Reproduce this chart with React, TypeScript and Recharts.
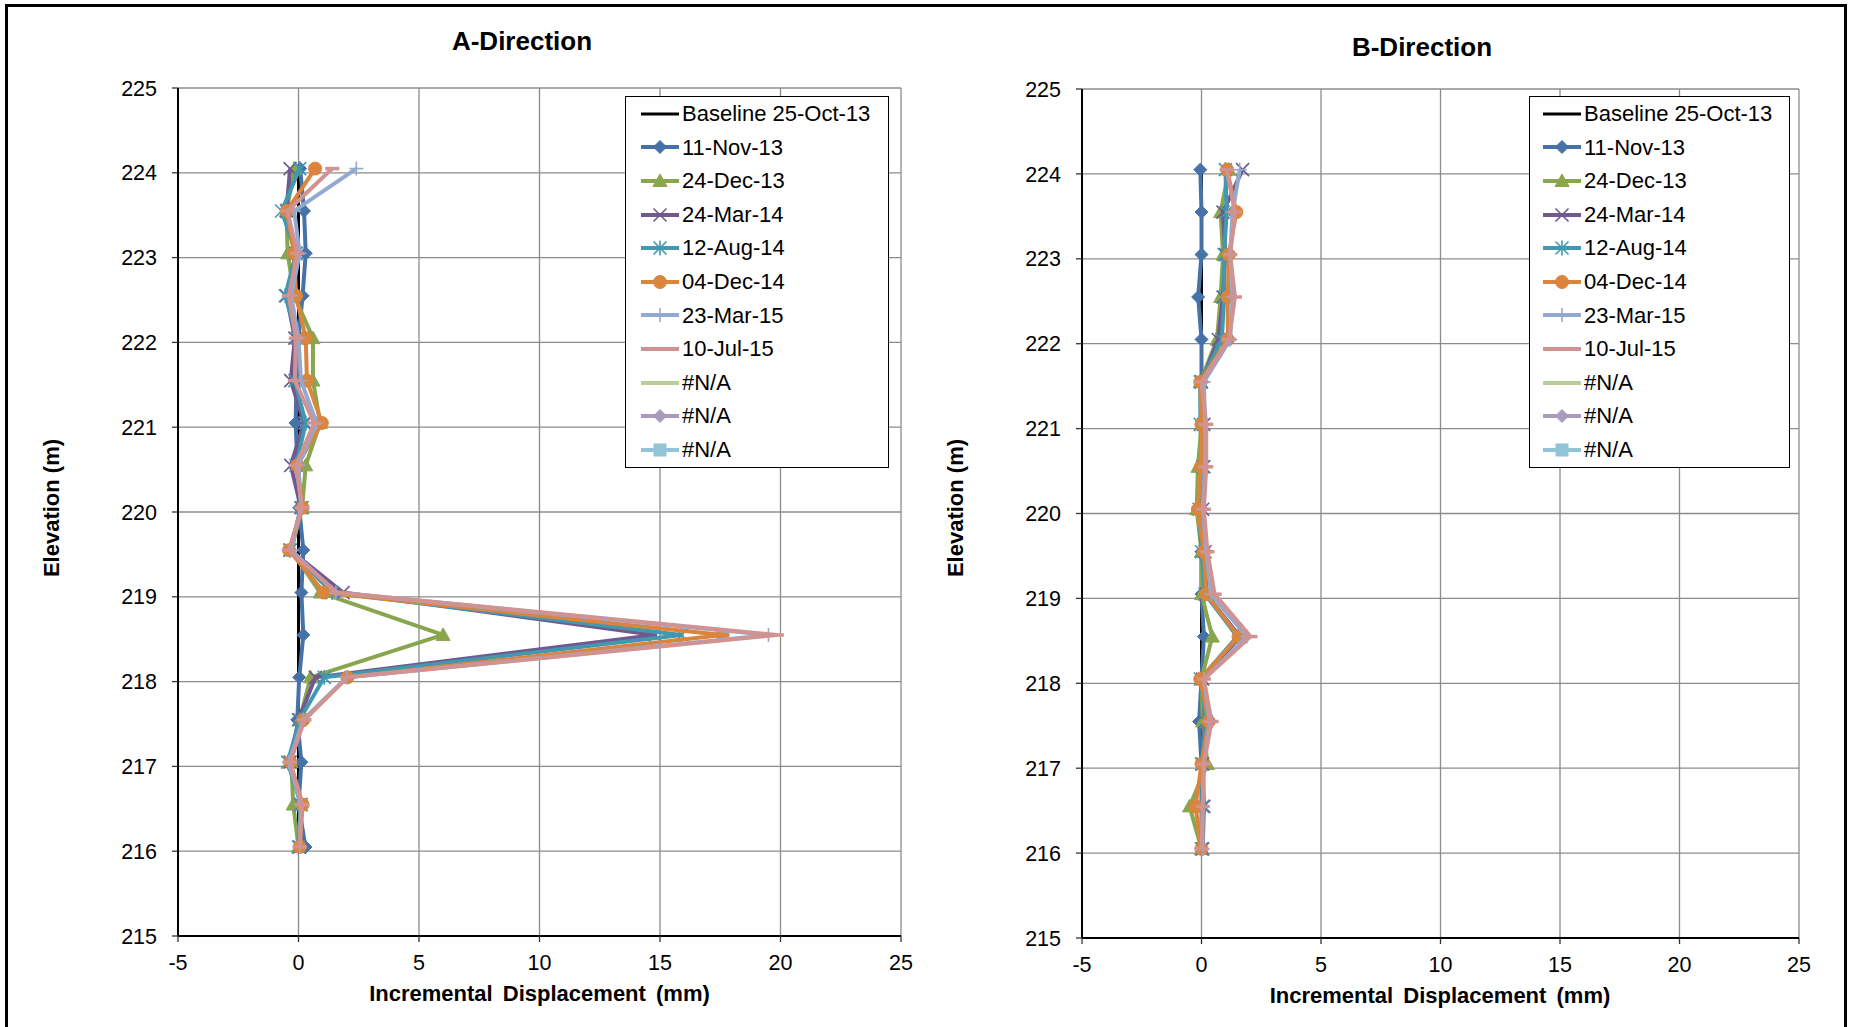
import React from 'react';
import { ScatterChart, Scatter, XAxis, YAxis, CartesianGrid, Legend } from 'recharts';

// ---------- data ----------
const elevations = [224.05, 223.55, 223.05, 222.55, 222.05, 221.55, 221.05, 220.55, 220.05, 219.55, 219.05, 218.55, 218.05, 217.55, 217.05, 216.55, 216.05];

const xTicks = [-5, 0, 5, 10, 15, 20, 25];
const yTicks = [215, 216, 217, 218, 219, 220, 221, 222, 223, 224, 225];

const seriesNames = ['Baseline 25-Oct-13', '11-Nov-13', '24-Dec-13', '24-Mar-14', '12-Aug-14', '04-Dec-14', '23-Mar-15', '10-Jul-15'];
const naNames = ['#N/A', '#N/A', '#N/A'];

// A-Direction (mm)
const aBaseline = [0, 0, 0, 0, 0, 0, 0, 0, 0, 0, 0, 0, 0, 0, 0, 0, 0];
const aNov13 = [0.07, 0.23, 0.3, 0.17, 0.0, -0.08, -0.12, -0.04, 0.03, 0.2, 0.12, 0.2, 0.03, -0.05, 0.12, 0.0, 0.29];
const aDec13 = [-0.15, -0.5, -0.45, -0.18, 0.6, 0.6, 0.9, 0.3, 0.15, -0.3, 0.9, 6.0, 0.5, 0.05, -0.3, -0.22, 0.0];
const aMar14 = [-0.35, -0.5, -0.1, -0.5, -0.15, -0.32, 0.23, -0.32, 0.1, -0.35, 1.85, 14.8, 0.7, 0.0, -0.35, 0.1, 0.05];
const aAug14 = [0.05, -0.7, -0.1, -0.55, -0.05, -0.15, 0.3, -0.1, 0.15, -0.35, 1.4, 15.9, 1.07, 0.05, -0.45, 0.1, 0.0];
const aDec14 = [0.69, -0.48, -0.18, -0.1, 0.3, 0.35, 0.97, -0.05, 0.17, -0.39, 1.06, 17.6, 2.03, 0.2, -0.34, 0.17, 0.05];
const aMar15 = [2.4, -0.18, 0.05, -0.3, 0.0, 0.1, 0.75, 0.0, 0.1, -0.3, 1.55, 19.5, 2.0, 0.2, -0.4, 0.1, 0.05];
const aJul15 = [1.4, -0.46, -0.05, -0.4, -0.11, -0.15, 0.65, -0.1, 0.15, -0.4, 1.6, 19.85, 2.03, 0.25, -0.35, 0.15, 0.05];

// B-Direction (mm)
const bBaseline = [0, 0, 0, 0, 0, 0, 0, 0, 0, 0, 0, 0, 0, 0, 0, 0, 0];
const bNov13 = [-0.05, 0.0, 0.0, -0.14, 0.0, 0.0, 0.0, 0.0, 0.0, 0.0, 0.0, 0.1, 0.0, -0.1, 0.0, 0.0, 0.0];
const bDec13 = [1.15, 0.8, 0.9, 0.8, 0.65, -0.05, 0.0, -0.15, -0.2, 0.0, 0.0, 0.45, 0.0, 0.05, 0.25, -0.5, 0.0];
const bMar14 = [1.72, 0.9, 1.0, 0.9, 0.7, 0.0, 0.1, 0.1, 0.05, 0.15, 0.2, 1.6, 0.05, 0.15, 0.05, 0.1, 0.05];
const bAug14 = [1.0, 1.05, 0.95, 0.95, 0.85, -0.05, -0.05, 0.05, -0.1, 0.0, 0.15, 1.5, -0.05, 0.2, 0.0, 0.05, 0.0];
const bDec14 = [1.07, 1.46, 1.14, 1.1, 1.1, -0.05, 0.0, -0.03, -0.15, 0.1, 0.2, 1.55, -0.05, 0.3, 0.0, -0.25, 0.0];
const bMar15 = [1.6, 1.3, 1.2, 1.3, 1.2, 0.1, 0.15, 0.15, 0.05, 0.2, 0.4, 1.9, 0.1, 0.35, 0.1, 0.05, 0.05];
const bJul15 = [1.05, 1.4, 1.2, 1.4, 1.15, 0.0, 0.2, 0.2, 0.1, 0.25, 0.55, 2.05, 0.1, 0.42, 0.1, 0.05, 0.0];

const aSeries = [aBaseline, aNov13, aDec13, aMar14, aAug14, aDec14, aMar15, aJul15];
const bSeries = [bBaseline, bNov13, bDec13, bMar14, bAug14, bDec14, bMar15, bJul15];

// ---------- styles ----------
type Kind = 'none' | 'diamond' | 'triangle' | 'x' | 'star' | 'circle' | 'plus' | 'dash' | 'square';

const seriesStyle: { color: string; kind: Kind; width: number }[] = [
  { color: '#000000', kind: 'none', width: 3 },
  { color: '#4572A7', kind: 'diamond', width: 4 },
  { color: '#89A54E', kind: 'triangle', width: 4 },
  { color: '#71588F', kind: 'x', width: 4 },
  { color: '#4198AF', kind: 'star', width: 4 },
  { color: '#DB843D', kind: 'circle', width: 4 },
  { color: '#93A9CF', kind: 'plus', width: 4 },
  { color: '#D19392', kind: 'dash', width: 4 },
];
const naStyle: { color: string; kind: Kind; width: number }[] = [
  { color: '#B9CD96', kind: 'none', width: 4 },
  { color: '#A99BBD', kind: 'diamond', width: 4 },
  { color: '#92C4D8', kind: 'square', width: 4 },
];

const FONT = "'Liberation Sans', Arial, sans-serif";

const Marker = ({ kind, cx, cy, color }: { kind: Kind; cx: number; cy: number; color: string }) => {
  const s = 6.5;
  switch (kind) {
    case 'diamond':
      return <path d={`M${cx},${cy - s}L${cx + s},${cy}L${cx},${cy + s}L${cx - s},${cy}Z`} fill={color} stroke={color} strokeWidth={1} />;
    case 'triangle':
      return <path d={`M${cx},${cy - 7}L${cx + 7},${cy + 5.5}L${cx - 7},${cy + 5.5}Z`} fill={color} stroke={color} strokeWidth={1} />;
    case 'x':
      return (
        <g stroke={color} strokeWidth={1.6}>
          <line x1={cx - s} y1={cy - s} x2={cx + s} y2={cy + s} />
          <line x1={cx - s} y1={cy + s} x2={cx + s} y2={cy - s} />
        </g>
      );
    case 'star':
      return (
        <g stroke={color} strokeWidth={1.6}>
          <line x1={cx - s} y1={cy - s} x2={cx + s} y2={cy + s} />
          <line x1={cx - s} y1={cy + s} x2={cx + s} y2={cy - s} />
          <line x1={cx} y1={cy - s - 1} x2={cx} y2={cy + s + 1} />
        </g>
      );
    case 'circle':
      return <circle cx={cx} cy={cy} r={6.5} fill={color} stroke={color} strokeWidth={1} />;
    case 'plus':
      return (
        <g stroke={color} strokeWidth={1.6}>
          <line x1={cx - 7} y1={cy} x2={cx + 7} y2={cy} />
          <line x1={cx} y1={cy - 7} x2={cx} y2={cy + 7} />
        </g>
      );
    case 'dash':
      return <line x1={cx - 7} y1={cy} x2={cx + 7} y2={cy} stroke={color} strokeWidth={3.5} />;
    case 'square':
      return <rect x={cx - 6} y={cy - 6} width={12} height={12} fill={color} stroke={color} />;
    default:
      return <g />;
  }
};

const legendItems = [
  ...seriesNames.map((name, i) => ({ name, ...seriesStyle[i] })),
  ...naNames.map((name, i) => ({ name, ...naStyle[i] })),
];

const LegendBox = ({ width, padLeft }: { width: number; padLeft: number }) => (
  <div
    style={{
      border: '1px solid #000',
      background: '#fff',
      boxSizing: 'border-box',
      width,
      fontFamily: FONT,
      fontSize: 22,
      color: '#000',
    }}
  >
    {legendItems.map((it, i) => (
      <div key={i} style={{ display: 'flex', alignItems: 'center', height: 33.6 }}>
        <svg width={38} height={20} style={{ marginLeft: padLeft, flex: 'none', overflow: 'visible' }}>
          <line x1={0} x2={38} y1={10} y2={10} stroke={it.color} strokeWidth={it.width} />
          <Marker kind={it.kind} cx={19} cy={10} color={it.color} />
        </svg>
        <span style={{ marginLeft: 3, whiteSpace: 'nowrap', lineHeight: '33.6px' }}>{it.name}</span>
      </div>
    ))}
  </div>
);

const toPoints = (vals: number[]) => vals.map((v, i) => ({ x: v, y: elevations[i] }));

type PanelProps = {
  series: number[][];
  left: number;
  width: number;
  margin: { top: number; right: number; bottom: number; left: number };
  legendLeft: number;
  legendWidth: number;
  legendPad: number;
  xTitle: { x: number; y: number };
  yTitle: { x: number; y: number };
};

const Panel = ({ series, left, width, margin, legendLeft, legendWidth, legendPad, xTitle, yTitle }: PanelProps) => (
  <div style={{ position: 'absolute', left, top: 0 }}>
    <ScatterChart width={width} height={1027} margin={margin}>
      <CartesianGrid stroke="#8c8c8c" strokeWidth={1.3} />
      <XAxis
        type="number"
        dataKey="x"
        domain={[-5, 25]}
        ticks={xTicks}
        interval={0}
        height={40}
        tickSize={6}
        tickMargin={13}
        axisLine={{ stroke: '#000', strokeWidth: 2 }}
        tickLine={{ stroke: '#333', strokeWidth: 1.3 }}
        tick={{ fill: '#000', fontSize: 21.5, fontFamily: FONT }}
        label={{
          content: () => (
            <text
              x={xTitle.x}
              y={xTitle.y}
              textAnchor="middle"
              dominantBaseline="central"
              style={{ fontFamily: FONT, fontSize: 22, fontWeight: 'bold', wordSpacing: 4, fill: '#000' }}
            >
              Incremental Displacement (mm)
            </text>
          ),
        }}
      />
      <YAxis
        type="number"
        dataKey="y"
        domain={[215, 225]}
        ticks={yTicks}
        interval={0}
        width={60}
        tickSize={6}
        tickMargin={15}
        axisLine={{ stroke: '#000', strokeWidth: 2 }}
        tickLine={{ stroke: '#333', strokeWidth: 1.3 }}
        tick={{ fill: '#000', fontSize: 21.5, fontFamily: FONT }}
        label={{
          content: () => (
            <text
              x={yTitle.x}
              y={yTitle.y}
              textAnchor="middle"
              dominantBaseline="central"
              transform={`rotate(-90 ${yTitle.x} ${yTitle.y})`}
              style={{ fontFamily: FONT, fontSize: 22, fontWeight: 'bold', fill: '#000' }}
            >
              Elevation (m)
            </text>
          ),
        }}
      />
      {series.map((vals, i) => {
        const st = seriesStyle[i];
        return (
          <Scatter
            key={i}
            name={seriesNames[i]}
            data={toPoints(vals)}
            fill={st.color}
            line={{ stroke: st.color, strokeWidth: st.width, strokeLinejoin: 'round' }}
            lineType="joint"
            isAnimationActive={false}
            shape={(p: any) => <Marker kind={st.kind} cx={p.cx} cy={p.cy} color={st.color} />}
          />
        );
      })}
      <Legend
        layout="vertical"
        align="center"
        verticalAlign="middle"
        wrapperStyle={{ position: 'absolute', left: legendLeft, top: 96, width: legendWidth, height: 'auto', margin: 0, padding: 0 }}
        content={() => <LegendBox width={legendWidth} padLeft={legendPad} />}
      />
    </ScatterChart>
  </div>
);

const titleStyle = (cx: number, cy: number): React.CSSProperties => ({
  position: 'absolute',
  left: cx - 200,
  top: cy - 15,
  width: 400,
  textAlign: 'center',
  fontFamily: FONT,
  fontSize: 26,
  fontWeight: 'bold',
  lineHeight: '30px',
  color: '#000',
});

export default function App() {
  return (
    <div style={{ position: 'absolute', left: 0, top: 0, width: 1851, height: 1027, overflow: 'hidden', background: '#fff' }}>
      <div
        style={{
          position: 'absolute',
          left: 5,
          top: 4,
          width: 1842,
          height: 1100,
          border: '3px solid #000',
          boxSizing: 'border-box',
        }}
      />
      <Panel
        series={aSeries}
        left={0}
        width={930}
        margin={{ top: 88, right: 29, bottom: 51, left: 118 }}
        legendLeft={625}
        legendWidth={264}
        legendPad={15}
        xTitle={{ x: 539.5, y: 993 }}
        yTitle={{ x: 51, y: 508 }}
      />
      <Panel
        series={bSeries}
        left={920}
        width={931}
        margin={{ top: 89, right: 52, bottom: 49, left: 102 }}
        legendLeft={609}
        legendWidth={261}
        legendPad={13}
        xTitle={{ x: 520, y: 995 }}
        yTitle={{ x: 35, y: 508 }}
      />
      <div style={titleStyle(522, 41)}>A-Direction</div>
      <div style={titleStyle(1422, 47)}>B-Direction</div>
    </div>
  );
}
